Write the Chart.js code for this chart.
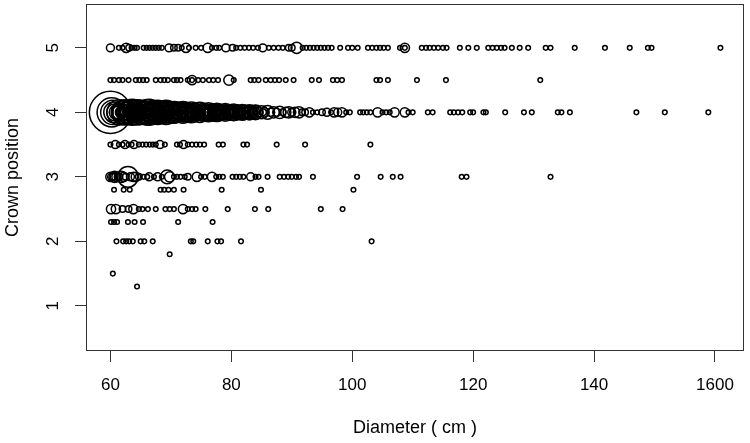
<!DOCTYPE html>
<html>
<head>
<meta charset="utf-8">
<title>Crown position by diameter</title>
<script src="https://cdn.jsdelivr.net/npm/chart.js@4.4.1/dist/chart.umd.min.js"></script>
<style>
  html, body { margin: 0; padding: 0; background: #fff; }
  canvas { display: block; }
</style>
</head>
<body>
<canvas id="crownChart" width="750" height="443"></canvas>
<script>
// each row: [diameter (cm), number of trees] at one crown position
const crown5 = [[60,3],[61.4,1],[62,1],[62.6,4],[63.1,2],[63.5,1],[64,1],[64.4,1],[65.5,1],[66,1],[66.5,1],[67,1],[67.5,1],[68,1],[68.5,1],
  [69.7,3],[70.5,2],[71.2,2],[71.8,1],[72.5,4],[73,1],[74.1,1],[75,1],[76.1,4],[76.8,1],[77.5,1],[78,1],[79.1,3],[80.2,2],[80.8,1],
  [81.5,1],[82.2,1],[82.9,1],[83.6,1],[84.4,1],[85.2,3],[86.2,1],[87,1],[87.8,1],[88.5,1],[89.5,2],[90,2],[90.8,6],[91.8,1],[92.4,1],
  [93,1],[93.6,1],[94.2,1],[94.8,1],[95.4,1],[96,1],[96.6,1],[98,1],[99.3,1],[100,1],[100.9,1],[102.6,1],[103.3,1],[104,1],[104.6,1],
  [105.2,1],[105.9,1],[107.9,1],[108.7,4],[108.7,1],[111.5,1],[112.2,1],[112.8,1],[113.5,1],[114.2,1],[115,1],[115.6,1],[117.8,1],
  [119.2,1],[120.6,1],[122.5,1],[123.2,1],[123.9,1],[124.6,1],[125.2,1],[126.4,1],[127.7,1],[129.1,1],[132,1],[132.8,1],[136.8,1],
  [141.8,1],[145.9,1],[148.9,1],[149.5,1],[160.9,1]];

const crown45 = [[60,1],[60.6,1],[61.4,1],[62,1],[63,1],[64.2,1],[64.8,1],[65.4,1],[66,1],[67.5,1],[68.3,1],[68.9,1],[69.5,1],[70.5,1],
  [71,1],[71.6,1],[72.8,1],[73.5,4],[73.5,1],[74.5,1],[75.3,1],[76.3,1],[77,1],[77.8,1],[79.6,5],[80.4,1],[83.2,1],[83.8,1],[84.5,1],
  [85.7,1],[86.5,1],[87.2,1],[87.9,1],[89,1],[90.3,1],[93.3,1],[94.5,1],[96.8,1],[97.5,1],[98.3,1],[104,1],[104.6,1],[105.9,1],
  [110.7,1],[115.5,1],[131.1,1]];

const crown4 = [[60,84],[60.2,40],[60.4,28],[60.6,20],[60.8,14],[61,10],[61.2,7],
  [61.5,30],[61.75,6],[62,24],[62.25,3],[62.5,30],[62.75,12],[63,20],[63.25,4],[63.5,28],[63.75,9],[64,16],[64.25,2],[64.5,30],
  [64.75,11],[65,20],[65.25,5],[65.5,26],[65.75,8],[66,30],[66.25,3],[66.5,18],[66.75,10],[67,25],[67.25,4],[67.5,14],[67.75,7],
  [68,24],[68.25,2],[68.5,16],[68.75,9],[69,22],[69.25,4],[69.5,12],[69.75,6],[70,22],[70.25,3],[70.5,14],[70.75,8],[71,18],
  [71.25,2],[71.5,12],[71.75,6],[72,18],[72.25,4],[72.5,10],[72.75,3],[73,16],[73.25,7],[73.5,11],[73.75,2],[74,15],[74.25,5],
  [74.5,9],[74.75,3],[75,14],[75.25,6],[75.5,8],[75.75,2],[76,13],[76.25,4],[76.5,8],[76.75,2],[77,14],[77.25,5],[77.5,7],[77.75,3],
  [78,12],[78.25,2],[78.5,7],[78.75,4],[79,11],[79.25,2],[79.5,6],[79.75,3],[80,12],[80.25,2],[80.5,6],[80.75,3],[81,10],[81.5,5],
  [81.75,2],[82,10],[82.5,4],[83,9],[83.25,2],[83.5,5],[84,9],[84.5,4],[85,8],[85.25,2],[85.5,4],[86,9],[86.5,3],[87,6],[87.5,3],
  [88,7],[88.5,2],[89,5],[89.5,6],[90,3],[90.5,5],[91.2,6],[91.7,2],[92.2,2],[92.9,4],[93.5,1],[94.2,1],[95,2],[95.8,3],[96.5,1],
  [97,4],[97.6,3],[98.3,4],[99,1],[99.6,1],[101.3,1],[101.8,1],[102.4,1],[103,1],[104.2,4],[105,1],[105.6,1],[106.2,1],[107,4],
  [108.7,4],[109.3,1],[110,1],[112.5,1],[113.3,1],[116.2,1],[116.8,1],[117.5,1],[118.2,1],[119.5,1],[120,1],[121.7,1],[122.1,1],
  [125.3,1],[128.4,1],[129.7,1],[134,1],[134.6,1],[136,1],[147,1],[151.7,1],[158.9,1]];

// the crowded part of crown position 4, read as a solid band
const crown4Dense = [[61.6,3],[61.8,15],[62,6],[62.2,28],[62.4,1],[62.6,10],[62.8,21],[63,3],[63.2,15],[63.4,6],[63.6,32],[63.8,1],
  [64,10],[64.2,21],[64.4,3],[64.6,15],[64.8,6],[65,28],[65.2,1],[65.4,10],[65.6,21],[65.8,3],[66,15],[66.2,6],[66.4,32],[66.6,1],
  [66.8,10],[67,21],[67.2,3],[67.4,15],[67.6,6],[67.8,28],[68,1],[68.2,10],[68.4,21],[68.6,3],[68.8,15],[69,6],[69.2,28],[69.4,1],
  [69.6,10],[69.8,21],[70,3],[70.2,13],[70.4,6],[70.6,22],[70.8,1],[71,9],[71.2,17],[71.4,3],[71.6,12],[71.8,5],[72,22],[72.2,1],
  [72.4,9],[72.6,17],[72.8,3],[73,12],[73.2,5],[73.4,20],[73.6,1],[73.8,8],[74,15],[74.2,3],[74.4,11],[74.6,5],[74.8,19],[75,1],
  [75.2,8],[75.4,14],[75.6,3],[75.8,10],[76,5],[76.2,17],[76.4,1],[76.6,7],[76.8,13],[77,3],[77.2,10],[77.4,5],[77.6,16],[77.8,1],
  [78,7],[78.2,12],[78.4,3],[78.6,9],[78.8,4],[79,15],[79.2,1],[79.4,6],[79.6,11],[79.8,3],[80,8],[80.2,4],[80.4,13],[80.6,1],
  [80.8,6],[81,10],[81.2,3],[81.4,7],[81.6,4],[81.8,12],[82,1],[82.2,5],[82.4,9],[82.6,3],[82.8,6],[83,11],[83.2,2],[83.4,5],
  [83.6,8],[83.8,3],[84,10]];

const crown35 = [[60,1],[60.8,3],[61.4,1],[62,1],[62.4,3],[63,1],[63.5,1],[63.9,3],[64.7,1],[65.3,1],[65.9,1],[66.5,1],[67,1],[67.5,1],
  [68.2,3],[69,1],[71,1],[71.5,1],[72.1,3],[72.8,1],[73.5,1],[74.2,1],[74.8,1],[75.5,1],[77.9,1],[78.6,1],[82,1],[82.6,1],[87.5,1],
  [92.2,1],[103,1]];

const crown3 = [[60,4],[60.2,3],[60.5,2],[60.7,6],[61,4],[61.3,3],[61.5,2],[61.8,6],[62.2,4],[62.5,2],[62.9,20],[63.3,3],[63.8,4],
  [64.2,4],[64.7,2],[65.5,1],[66.1,1],[66.4,3],[67.2,1],[67.8,3],[68.5,1],[69.4,9],[69.8,5],[70.5,1],[71,1],[71.6,1],[72.3,1],[72.8,2],
  [74.3,4],[75,1],[75.6,1],[76.8,4],[77.5,1],[78,1],[78.6,1],[80.2,1],[80.8,1],[81.4,1],[82,1],[83.2,3],[84,1],[84.5,1],[86,1],[88,1],
  [88.7,1],[89.4,1],[90,1],[90.7,1],[91.2,1],[93.5,1],[100.8,1],[104.7,1],[106.7,1],[108,1],[118.1,1],[118.9,1],[132.8,1]];

const crown28 = [[60.6,1],[62.2,1],[63.2,1],[68.3,1],[68.9,1],[69.6,1],[70.5,1],[72.1,1],[78.4,1],[84.9,1],[100.2,1]];

const crown25 = [[60.1,4],[60.9,4],[62,2],[63,2],[63.8,4],[64.7,1],[65.3,1],[66.2,1],[67.5,1],[69.1,1],[69.8,1],[70.5,1],[72,4],
  [72.8,1],[73.5,1],[74.1,1],[75.7,1],[79.4,1],[83.9,1],[86.1,1],[94.8,1],[98.4,1]];

const crown23 = [[60.1,1],[60.6,1],[61.1,1],[62.9,1],[64,1],[65.4,1],[71.2,1],[76.9,1]];

const crown2 = [[61,1],[62.1,1],[62.6,1],[63.1,1],[63.7,1],[65,1],[65.6,1],[67,1],[73.3,1],[73.7,1],[76.1,1],[77.7,1],[78.3,1],
  [81.6,1],[103.2,1]];

const crown18 = [[69.8,1]];
const crown15 = [[60.4,1]];
const crown13 = [[64.4,1]];

const crownLevels = [5, 4.5, 4, 4, 3.5, 3, 2.8, 2.5, 2.3, 2, 1.8, 1.5, 1.3];
const crownRows = [crown5, crown45, crown4, crown4Dense, crown35, crown3, crown28, crown25, crown23, crown2, crown18, crown15, crown13];

const xTicks = [60, 80, 100, 120, 140, 160];
const xTickLabels = ['60', '80', '100', '120', '140', '1600'];
const yTicks = [1, 2, 3, 4, 5];
const yTickLabels = ['1', '2', '3', '4', '5'];

// bubble points, radius grows with the square root of the tree count
const points = [];
crownRows.forEach((row, i) => {
  row.forEach(([d, n]) => points.push({ x: d, y: crownLevels[i], r: 2.3 * Math.sqrt(n) }));
});

const font = { family: "'Liberation Sans', Arial, sans-serif", size: 17 };
const titleFont = { family: "'Liberation Sans', Arial, sans-serif", size: 18 };

// R-style box round the plot region
const framePlugin = {
  id: 'frame',
  afterDraw(chart) {
    const { ctx, chartArea: a } = chart;
    ctx.save();
    ctx.strokeStyle = '#333';
    ctx.lineWidth = 1;
    ctx.strokeRect(Math.round(a.left) + 0.5, Math.round(a.top) + 0.5,
      Math.round(a.right - a.left) - 1, Math.round(a.bottom - a.top) - 1);
    ctx.restore();
  }
};

new Chart(document.getElementById('crownChart'), {
  type: 'bubble',
  data: {
    datasets: [{
      data: points,
      borderColor: '#000',
      backgroundColor: 'rgba(0,0,0,0)',
      borderWidth: 1.5,
      hoverBorderWidth: 1.5
    }]
  },
  options: {
    responsive: false,
    animation: false,
    devicePixelRatio: 1,
    layout: { autoPadding: false, padding: { left: 0, right: 6, top: 4, bottom: 0 } },
    plugins: { legend: { display: false }, tooltip: { enabled: false } },
    scales: {
      x: {
        type: 'linear',
        min: 55.96,
        max: 164.8,
        afterBuildTicks: s => { s.ticks = xTicks.map(v => ({ value: v })); },
        afterFit: s => { s.height = 92; s.paddingLeft = 0; s.paddingRight = 0; },
        ticks: { font: font, color: '#000', padding: 13, maxRotation: 0, callback: (v, i) => xTickLabels[i] },
        grid: { drawOnChartArea: false, tickLength: 11, color: '#333' },
        border: { display: false },
        title: { display: true, text: 'Diameter ( cm )', font: titleFont, color: '#000', padding: { top: 0, bottom: 4 } }
      },
      y: {
        type: 'linear',
        min: 0.3,
        max: 5.68,
        afterBuildTicks: s => { s.ticks = yTicks.map(v => ({ value: v })); },
        afterFit: s => { s.width = 86; s.paddingTop = 0; s.paddingBottom = 0; },
        ticks: { font: font, color: '#000', padding: 17, minRotation: 90, maxRotation: 90, crossAlign: 'center',
          callback: (v, i) => yTickLabels[i] },
        grid: { drawOnChartArea: false, tickLength: 11, color: '#333' },
        border: { display: false },
        title: { display: true, text: 'Crown position', font: titleFont, color: '#000', padding: { top: 2, bottom: 0 } }
      }
    }
  },
  plugins: [framePlugin]
});
</script>
</body>
</html>
